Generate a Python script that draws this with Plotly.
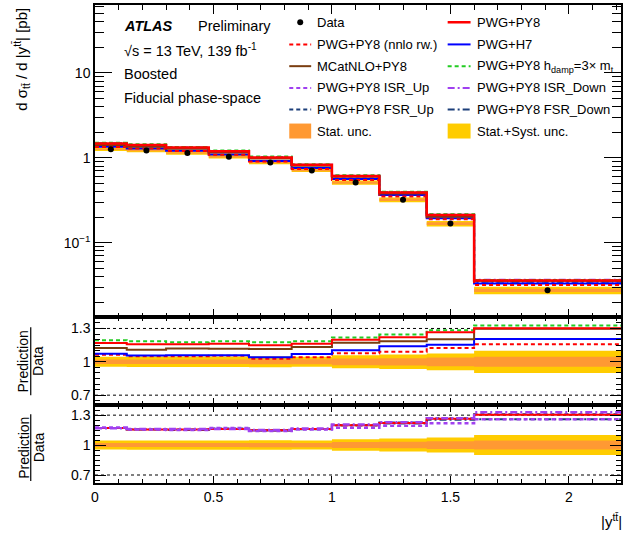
import plotly.graph_objects as go
from plotly.subplots import make_subplots

# ---------------- data ----------------
bin_edges = [0.0, 0.134, 0.30, 0.48, 0.65, 0.83, 1.0, 1.2, 1.4, 1.6, 2.22]
data_xsec = [1.26, 1.22, 1.14, 1.03, 0.88, 0.71, 0.51, 0.32, 0.168, 0.0275]
unc_total = [0.045, 0.047, 0.047, 0.047, 0.048, 0.045, 0.058, 0.065, 0.075, 0.10]
unc_stat = [0.020, 0.020, 0.020, 0.020, 0.022, 0.022, 0.030, 0.033, 0.039, 0.045]

ratio_pwg_py8 = [1.170, 1.157, 1.157, 1.162, 1.148, 1.162, 1.199, 1.222, 1.265, 1.303]
ratio_pwg_nnlo = [1.063, 1.051, 1.051, 1.054, 1.027, 1.042, 1.076, 1.090, 1.124, 1.157]
ratio_mcatnlo = [1.124, 1.109, 1.120, 1.118, 1.115, 1.133, 1.172, 1.185, 1.202, 1.298]
ratio_pwg_h7 = [1.072, 1.057, 1.060, 1.060, 1.042, 1.070, 1.103, 1.139, 1.154, 1.206]
ratio_hdamp = [1.193, 1.185, 1.176, 1.185, 1.176, 1.185, 1.218, 1.245, 1.284, 1.327]
ratio_isr_up = [1.176, 1.157, 1.150, 1.170, 1.140, 1.155, 1.174, 1.193, 1.219, 1.258]
ratio_isr_down = [1.168, 1.160, 1.162, 1.160, 1.152, 1.165, 1.205, 1.228, 1.270, 1.330]
ratio_fsr_up = [1.172, 1.158, 1.155, 1.165, 1.148, 1.160, 1.200, 1.225, 1.270, 1.310]
ratio_fsr_down = [1.170, 1.155, 1.152, 1.162, 1.145, 1.158, 1.195, 1.215, 1.255, 1.258]

y_major_ticks = [0.1, 1, 10]
y_major_text = ["10<sup>\u22121</sup>", "1", "10"]
ratio_ticks = [0.7, 1.0, 1.3]
ratio_text = ["0.7", "1", "1.3"]

# ---------------- styles ----------------
FONT = "Liberation Sans, Arial, Helvetica, sans-serif"
C_RED = "#ff0000"
C_BROWN = "#7a3d10"
C_BLUE = "#0000ff"
C_GREEN = "#22cc22"
C_PURPLE = "#a040f0"
C_NAVY = "#1c3f7a"
C_STAT = "#ff9933"
C_TOT = "#ffcc00"
DASH = "4px,3px"
DASHDOT = "7px,3px,2px,3px"

W, H = 626, 540
ML, MR, MT, MB = 95, 3, 4, 57
PW = W - ML - MR
PH = H - MT - MB


def px(X):
    return (X - ML) / PW


def py(Y):
    return (H - MB - Y) / PH


top_dom = [py(317), 1.0]
mid_dom = [py(405), py(317)]
bot_dom = [0.0, py(405)]

fig = make_subplots(rows=3, cols=1, shared_xaxes=True, vertical_spacing=0)


def step(vals):
    return list(vals) + [vals[-1]]


centers = [(bin_edges[i] + bin_edges[i + 1]) / 2 for i in range(len(data_xsec))]


def add_band(row, lo, hi, color):
    fig.add_trace(go.Scatter(x=bin_edges, y=step(lo), mode="lines", line_shape="hv",
                             line=dict(width=0, color=color), showlegend=False,
                             hoverinfo="skip"), row=row, col=1)
    fig.add_trace(go.Scatter(x=bin_edges, y=step(hi), mode="lines", line_shape="hv",
                             line=dict(width=0, color=color), fill="tonexty",
                             fillcolor=color, showlegend=False, hoverinfo="skip"),
                  row=row, col=1)


def add_line(row, vals, color, dash="solid", width=2.0):
    fig.add_trace(go.Scatter(x=bin_edges, y=step(vals), mode="lines", line_shape="hv",
                             line=dict(color=color, dash=dash, width=width),
                             showlegend=False, hoverinfo="skip"), row=row, col=1)


# ---- top panel ----
add_band(1, [d * (1 - u) for d, u in zip(data_xsec, unc_total)],
         [d * (1 + u) for d, u in zip(data_xsec, unc_total)], C_TOT)
add_band(1, [d * (1 - u) for d, u in zip(data_xsec, unc_stat)],
         [d * (1 + u) for d, u in zip(data_xsec, unc_stat)], C_STAT)


def pred(r):
    return [d * x for d, x in zip(data_xsec, r)]


add_line(1, pred(ratio_isr_up), C_PURPLE, DASH)
add_line(1, pred(ratio_isr_down), C_PURPLE, DASHDOT)
add_line(1, pred(ratio_fsr_up), C_NAVY, DASH)
add_line(1, pred(ratio_fsr_down), C_NAVY, DASHDOT)
add_line(1, pred(ratio_pwg_h7), C_BLUE)
add_line(1, pred(ratio_pwg_nnlo), C_RED, DASH)
add_line(1, pred(ratio_hdamp), C_GREEN, DASH)
add_line(1, pred(ratio_mcatnlo), C_BROWN)
add_line(1, pred(ratio_pwg_py8), C_RED, "solid", 2.5)
fig.add_trace(go.Scatter(x=centers, y=data_xsec, mode="markers",
                         marker=dict(size=6, color="black"), showlegend=False,
                         hoverinfo="skip"), row=1, col=1)

# ---- middle ratio panel ----
add_band(2, [1 - u for u in unc_total], [1 + u for u in unc_total], C_TOT)
add_band(2, [1 - u for u in unc_stat], [1 + u for u in unc_stat], C_STAT)
add_line(2, ratio_pwg_nnlo, C_RED, DASH)
add_line(2, ratio_pwg_h7, C_BLUE)
add_line(2, ratio_mcatnlo, C_BROWN)
add_line(2, ratio_hdamp, C_GREEN, DASH)
add_line(2, ratio_pwg_py8, C_RED, "solid", 2.0)

# ---- bottom ratio panel ----
add_band(3, [1 - u for u in unc_total], [1 + u for u in unc_total], C_TOT)
add_band(3, [1 - u for u in unc_stat], [1 + u for u in unc_stat], C_STAT)
add_line(3, ratio_fsr_down, C_NAVY, DASHDOT)
add_line(3, ratio_fsr_up, C_NAVY, DASH)
add_line(3, ratio_pwg_py8, C_RED, "solid", 2.0)
add_line(3, ratio_isr_up, C_PURPLE, DASH, 2.5)
add_line(3, ratio_isr_down, C_PURPLE, DASHDOT, 2.5)

# ---------------- axes ----------------
xcommon = dict(range=[bin_edges[0], bin_edges[-1]], showline=True, linecolor="black",
               linewidth=1.5, mirror="ticks", ticks="inside", tickcolor="black",
               dtick=0.5, tick0=0, showgrid=False, zeroline=False,
               tickfont=dict(family=FONT, size=14, color="black"))
fig.update_xaxes(**xcommon)
fig.update_xaxes(ticklen=9, tickwidth=1.2,
                 minor=dict(ticks="inside", dtick=0.1, ticklen=5, tickcolor="black"),
                 showticklabels=False, row=1, col=1)
fig.update_xaxes(ticklen=7, tickwidth=1.2,
                 minor=dict(ticks="inside", dtick=0.1, ticklen=4, tickcolor="black"),
                 showticklabels=False, row=2, col=1)
fig.update_xaxes(ticklen=7, tickwidth=1.2,
                 minor=dict(ticks="inside", dtick=0.1, ticklen=4, tickcolor="black"),
                 showticklabels=True, row=3, col=1)

log_minor = [m * 10 ** e for e in (-2, -1, 0, 1) for m in range(2, 10)]
fig.update_yaxes(type="log", range=[-1.879, 1.799], domain=top_dom,
                 showline=True, linecolor="black", linewidth=1.5, mirror="ticks",
                 ticks="inside", ticklen=17, tickwidth=1.2, tickcolor="black",
                 tickmode="array", tickvals=y_major_ticks, ticktext=y_major_text,
                 minor=dict(ticks="inside", tickmode="array", tickvals=log_minor,
                            ticklen=9, tickcolor="black"),
                 showgrid=False, zeroline=False,
                 tickfont=dict(family=FONT, size=14, color="black"), row=1, col=1)
ycommon = dict(showline=True, linecolor="black", linewidth=1.5, mirror="ticks",
               ticks="inside", ticklen=11, tickwidth=1.2, tickcolor="black",
               tickmode="array", tickvals=ratio_ticks, ticktext=ratio_text,
               minor=dict(ticks="inside", dtick=0.05, tick0=0, ticklen=5,
                          tickcolor="black"),
               showgrid=False, zeroline=False,
               tickfont=dict(family=FONT, size=14, color="black"))
fig.update_yaxes(range=[0.61, 1.40], domain=mid_dom, row=2, col=1, **ycommon)
fig.update_yaxes(range=[0.62, 1.40], domain=bot_dom, row=3, col=1, **ycommon)

shapes = []
for xr, yr in (("x2 domain", "y2"), ("x3 domain", "y3")):
    for yv in (0.7, 1.3):
        shapes.append(dict(type="line", xref=xr, yref=yr, x0=0, x1=1, y0=yv, y1=yv,
                           line=dict(color="black", width=1, dash="dot"),
                           layer="below"))

annotations = []


def text(x, y, s, size=13, xanchor="left", yanchor="middle", angle=0, **kw):
    annotations.append(dict(xref="paper", yref="paper", x=px(x), y=py(y), text=s,
                            showarrow=False, xanchor=xanchor, yanchor=yanchor,
                            textangle=angle,
                            font=dict(family=FONT, size=size, color="black"), **kw))


# ATLAS block
text(122, 25, "<b><i>ATLAS</i></b>", 14.5)
text(196, 25, "Preliminary", 14.5)
text(122, 49, "\u221as = 13 TeV, 139 fb<sup>-1</sup>", 14.5)
text(122, 73, "Boosted", 14.5)
text(122, 97, "Fiducial phase-space", 14.5)

# legend
rows_y = [21.3, 43.5, 65.3, 87.1, 108.8, 130.3]
c1s, c1e, c1t = 290, 312, 316
c2s, c2e, c2t = 449, 472, 476


def leg_line(xs, xe, y, color, dash, width=2):
    shapes.append(dict(type="line", xref="paper", yref="paper", x0=px(xs), x1=px(xe),
                       y0=py(y), y1=py(y), line=dict(color=color, width=width, dash=dash)))


def leg_box(xs, xe, y, color):
    shapes.append(dict(type="rect", xref="paper", yref="paper", x0=px(xs), x1=px(xe),
                       y0=py(y - 7.5), y1=py(y + 7.5), line=dict(width=0),
                       fillcolor=color))


cx = (c1s + c1e) / 2
shapes.append(dict(type="circle", xref="paper", yref="paper", x0=px(cx - 3), x1=px(cx + 3),
                   y0=py(rows_y[0] - 3), y1=py(rows_y[0] + 3), fillcolor="black",
                   line=dict(width=0)))
text(c1t, rows_y[0], "Data")
leg_line(c2s, c2e, rows_y[0], C_RED, "solid", 2.5)
text(c2t, rows_y[0], "PWG+PY8")
leg_line(c1s, c1e, rows_y[1], C_RED, DASH)
text(c1t, rows_y[1], "PWG+PY8 (nnlo rw.)")
leg_line(c2s, c2e, rows_y[1], C_BLUE, "solid")
text(c2t, rows_y[1], "PWG+H7")
leg_line(c1s, c1e, rows_y[2], C_BROWN, "solid")
text(c1t, rows_y[2], "MCatNLO+PY8")
leg_line(c2s, c2e, rows_y[2], C_GREEN, DASH)
text(c2t, rows_y[2], "PWG+PY8 h<sub>damp</sub>=3\u00d7 m<sub>t</sub>")
leg_line(c1s, c1e, rows_y[3], C_PURPLE, DASH)
text(c1t, rows_y[3], "PWG+PY8 ISR_Up")
leg_line(c2s, c2e, rows_y[3], C_PURPLE, DASHDOT)
text(c2t, rows_y[3], "PWG+PY8 ISR_Down")
leg_line(c1s, c1e, rows_y[4], C_NAVY, DASH)
text(c1t, rows_y[4], "PWG+PY8 FSR_Up")
leg_line(c2s, c2e, rows_y[4], C_NAVY, DASHDOT)
text(c2t, rows_y[4], "PWG+PY8 FSR_Down")
leg_box(c1s, c1e, rows_y[5], C_STAT)
text(c1t, rows_y[5], "Stat. unc.")
leg_box(c2s, c2e, rows_y[5], C_TOT)
text(c2t, rows_y[5], "Stat.+Syst. unc.")

# axis titles
tt = "tt\u0304"
text(21, 5, "d \u03c3<sub>" + tt + "</sub> / d |y<sup>" + tt + "</sup>| [pb]", 15,
     xanchor="center", yanchor="top", angle=-90)
for yc, y0, y1 in ((361, 327, 395), (447.5, 414, 481)):
    text(23, yc, "Prediction", 14, xanchor="center", angle=-90)
    text(38.5, yc, "Data", 14, xanchor="center", angle=-90)
    shapes.append(dict(type="line", xref="paper", yref="paper", x0=px(30.5), x1=px(30.5),
                       y0=py(y0), y1=py(y1), line=dict(color="black", width=1.2)))
text(626, 521, "|y<sup>" + tt + "</sup>|", 15, xanchor="right")

fig.update_layout(width=W, height=H, margin=dict(l=ML, r=MR, t=MT, b=MB),
                  paper_bgcolor="white", plot_bgcolor="white", showlegend=False,
                  shapes=shapes, annotations=annotations,
                  font=dict(family=FONT, size=14, color="black"))

fig.write_html("out.html")
